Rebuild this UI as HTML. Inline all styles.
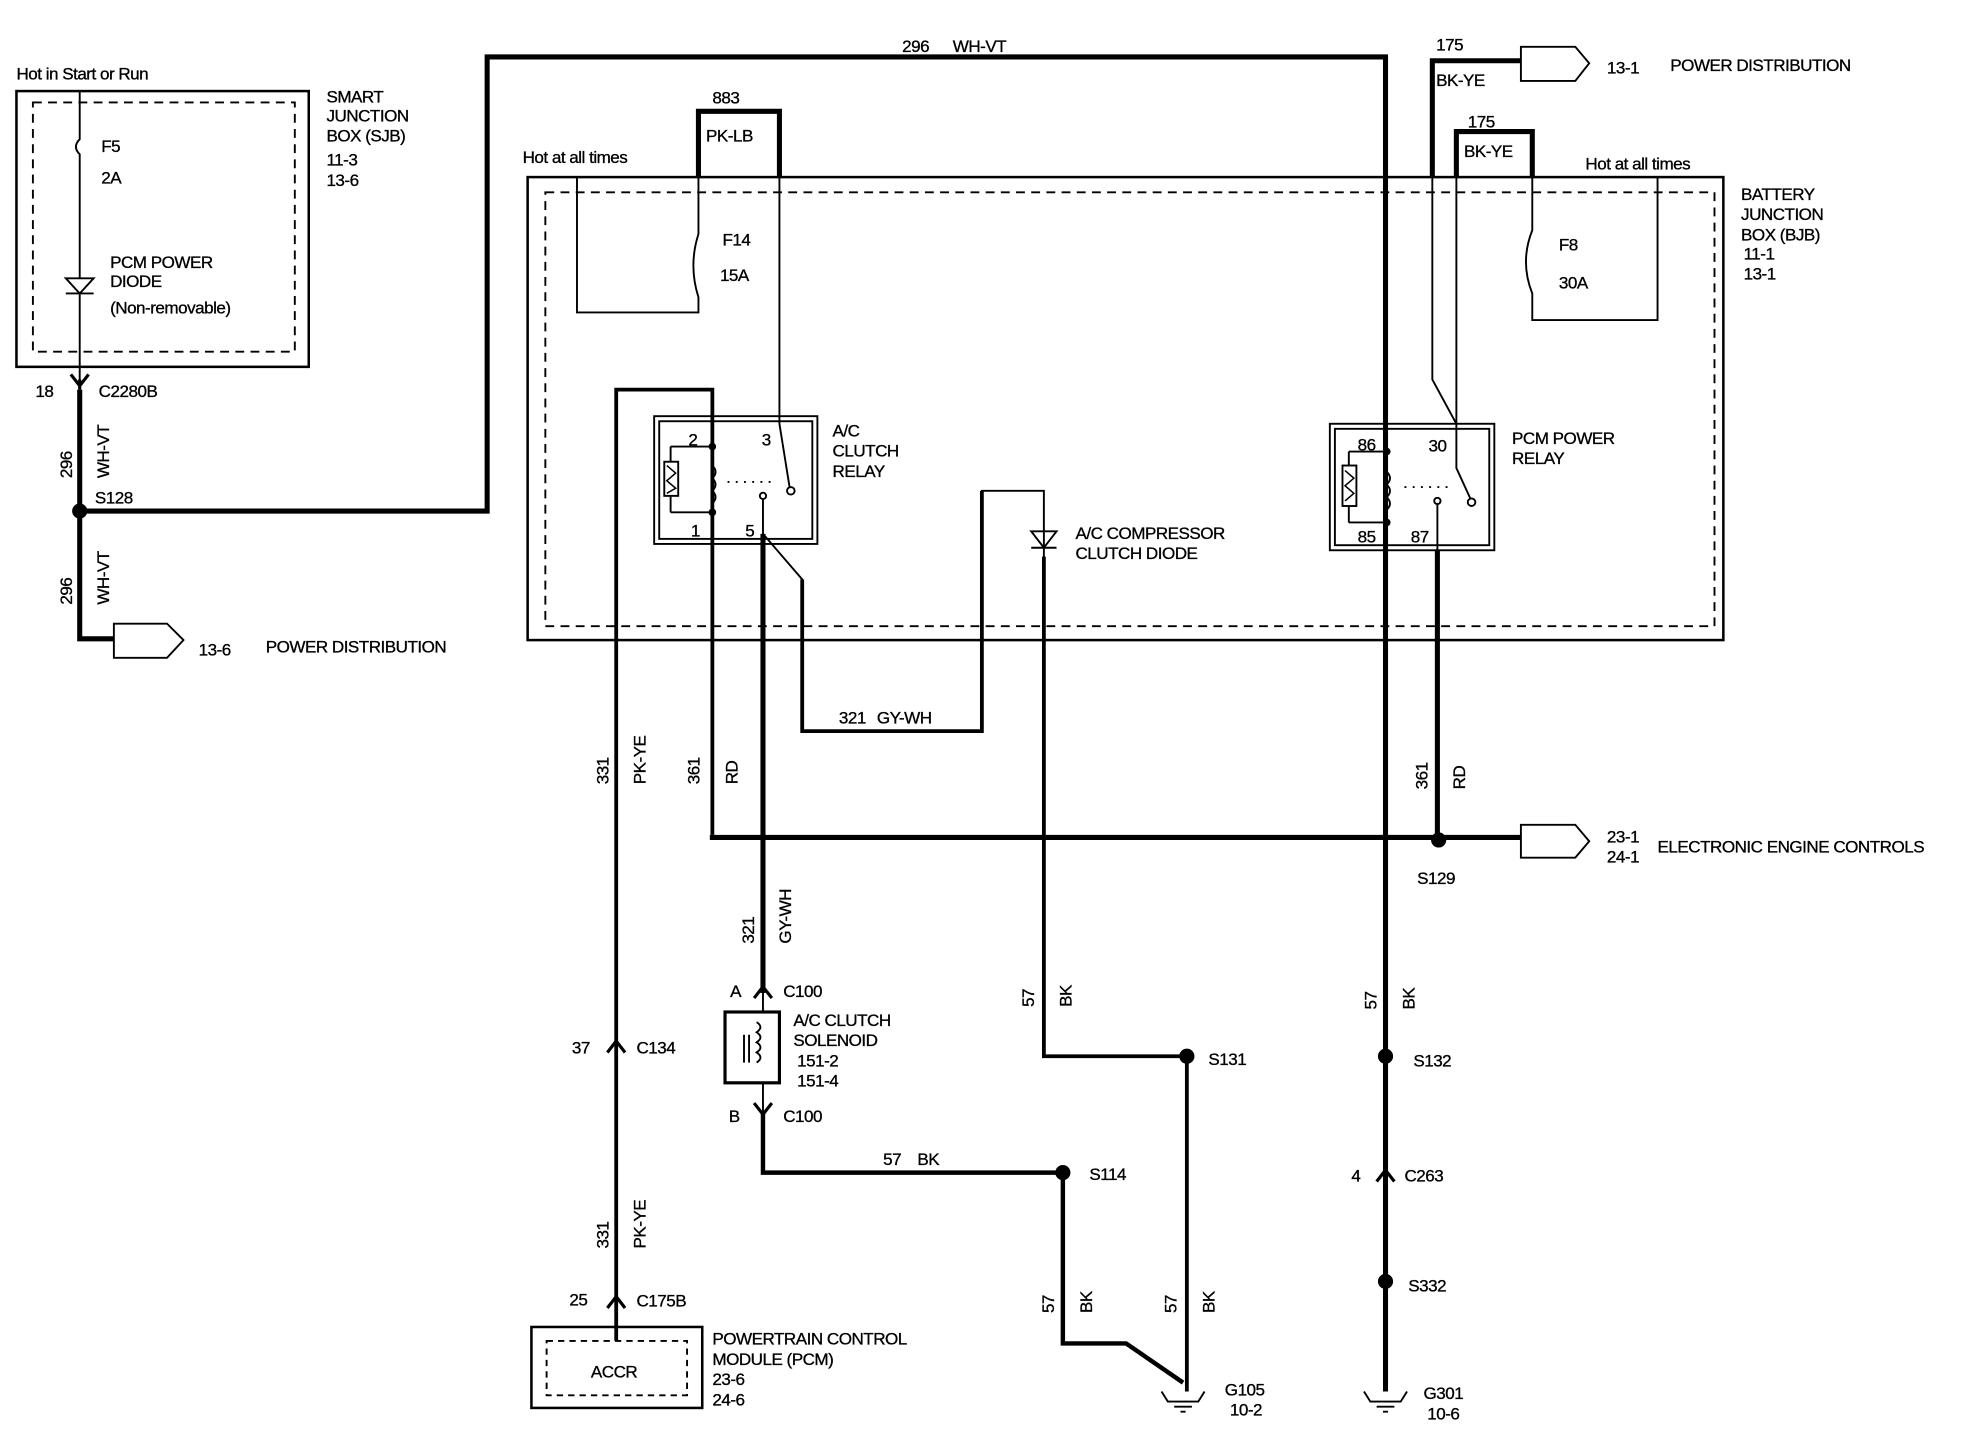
<!DOCTYPE html>
<html><head><meta charset="utf-8"><style>
html,body{margin:0;padding:0;background:#fff;}
svg{display:block;}
text{font-family:"Liberation Sans",sans-serif;font-size:13.5px;fill:#000;letter-spacing:-0.4px;stroke:#000;stroke-width:0.25px;}
</style></head><body>
<svg width="1984" height="1456" viewBox="0 0 1568 1151" preserveAspectRatio="none" xmlns="http://www.w3.org/2000/svg">
<g fill="none" stroke="#000" stroke-linejoin="miter">
<!-- SJB -->
<rect x="13" y="72" width="231" height="218" stroke-width="2"/>
<rect x="26" y="81" width="207" height="197" stroke-width="1.5" stroke-dasharray="7,5"/>
<path d="M63 72 V110 q-6 6 0 12 V220 M63 232 V300" stroke-width="1.5"/>
<path d="M52 220 H74 L63 232 Z M52 232 H74" stroke-width="1.5"/>
<path d="M56 296 L63 305 L70 296 M63 300 V308" stroke-width="2.5"/>
<!-- 296 wires -->
<path d="M63 308 V505 H90" stroke-width="4"/>
<path d="M63 404 H385 V45 H1095 V1100" stroke-width="4"/>
<path d="M90 493 H132 L145 506 L132 520 H90 Z" stroke-width="1.5"/>
<!-- BJB -->
<rect x="417" y="140" width="945" height="366" stroke-width="2"/>
<rect x="431" y="152" width="924" height="343" stroke-width="1.5" stroke-dasharray="7,5"/>
<!-- F14 -->
<path d="M456 140 V247 H552 V235 q-8 -25 0 -50 V140" stroke-width="1.5"/>
<path d="M552 140 V88 H616 V140" stroke-width="4"/>
<path d="M616 140 V335 L624 385" stroke-width="1.5"/>
<circle cx="625" cy="388" r="3" stroke-width="1.5"/>
<!-- AC clutch relay -->
<rect x="517" y="329" width="129" height="101" stroke-width="1.5"/>
<rect x="521" y="333" width="121" height="93" stroke-width="1.5"/>
<path d="M487 1060 V308 H563 V660" stroke-width="3"/>
<path d="M530 353 H563 M530 405 H563 M530 353 V365 M530 392 V405" stroke-width="1.5"/>
<rect x="525" y="365" width="11" height="27" stroke-width="1.5"/>
<path d="M527 368 L534 374 L527 380 L534 386 L527 390" stroke-width="1.2"/>
<path d="M563 368 q5 5 0 10 q5 5 0 10 q5 5 0 10" stroke-width="1.5"/>
<path d="M575 381 H612" stroke-width="1.5" stroke-dasharray="1.5,5"/>
<circle cx="603" cy="392" r="2.5" stroke-width="1.5"/>
<path d="M603 395 V422 L634 458 V578 H776 V388 H825 V835 H938 V1100" stroke-width="1.5"/>
<path d="M776 388 V578 H634 V458" stroke-width="3"/>
<path d="M825 440 V835 H938 V1100" stroke-width="3"/>
<path d="M603 422 V785" stroke-width="4"/>
<path d="M815 420 H835 L825 433 Z M815 433 H835" stroke-width="1.5"/>
<!-- PCM power relay -->
<rect x="1051" y="335" width="130" height="100" stroke-width="1.5"/>
<rect x="1055" y="339" width="122" height="92" stroke-width="1.5"/>
<path d="M1066 357 H1095 M1066 413 H1095 M1066 357 V368 M1066 400 V413" stroke-width="1.5"/>
<rect x="1061" y="368" width="11" height="32" stroke-width="1.5"/>
<path d="M1063 372 L1070 378 L1063 384 L1070 390 L1063 396" stroke-width="1.2"/>
<path d="M1096 373 q5 5 0 10 q5 5 0 10 q5 5 0 10" stroke-width="1.5"/>
<path d="M1110 385 H1148" stroke-width="1.5" stroke-dasharray="1.5,5"/>
<circle cx="1136" cy="396" r="2.5" stroke-width="1.5"/>
<path d="M1136 399 V435" stroke-width="1.5"/>
<path d="M1136 435 V664" stroke-width="4"/>
<circle cx="1163" cy="397" r="3" stroke-width="1.5"/>
<!-- 175 -->
<path d="M1202 48 H1132 V140" stroke-width="4"/>
<path d="M1202 37 H1245 L1256 50 L1245 64 H1202 Z" stroke-width="1.5"/>
<path d="M1132 140 V300 L1151 335" stroke-width="1.5"/>
<path d="M1151 140 V104 H1211 V140" stroke-width="4"/>
<path d="M1151 140 V370 L1162 394" stroke-width="1.5"/>
<path d="M1211 140 V182 q-10 25 0 50 V253 H1310 V140" stroke-width="1.5"/>
<!-- 361 horizontal -->
<path d="M563 660 V662 H1137 H1202" stroke-width="4"/>
<path d="M1202 652 H1245 L1256 665 L1245 678 H1202 Z" stroke-width="1.5"/>
<!-- solenoid -->
<path d="M596 789 L603 780 L610 789" stroke-width="2.5"/>
<path d="M603 780 V800 M603 856 V880" stroke-width="1.5"/>
<rect x="573" y="800" width="43" height="56" stroke-width="2.5"/>
<path d="M598 808 q6 4 0 8 q6 4 0 8 q6 4 0 8 q6 4 0 8 M588 818 V840 M592 818 V840" stroke-width="1.5"/>
<path d="M596 872 L603 881 L610 872" stroke-width="2.5"/>
<path d="M603 878 V927 H840 V1062 H890 L935 1093" stroke-width="3.5"/>
<!-- connectors on 331 and 1095 -->
<path d="M480 832 L487 823 L494 832" stroke-width="2.5"/>
<path d="M480 1034 L487 1025 L494 1034" stroke-width="2.5"/>
<path d="M1088 934 L1095 925 L1102 934" stroke-width="2.5"/>
<!-- PCM -->
<rect x="420" y="1049" width="135" height="64" stroke-width="2"/>
<rect x="432" y="1060" width="111" height="43" stroke-width="1.5" stroke-dasharray="5,4"/>
<!-- grounds -->
<path d="M918 1100 L923 1108 H947 L952 1100 M928 1112 H942 M933 1116 H937" stroke-width="1.5"/>
<path d="M1078 1100 L1083 1108 H1107 L1112 1100 M1088 1112 H1102 M1093 1116 H1097" stroke-width="1.5"/>
</g>
<g fill="#000">
<circle cx="63" cy="404" r="6"/>
<circle cx="563" cy="353" r="3"/><circle cx="563" cy="405" r="3"/>
<circle cx="1096" cy="357" r="3"/><circle cx="1096" cy="413" r="3"/>
<circle cx="1137" cy="664" r="6"/>
<circle cx="938" cy="835" r="6"/>
<circle cx="840" cy="927" r="6"/>
<circle cx="1095" cy="835" r="6"/>
<circle cx="1095" cy="1013" r="6"/>
</g>
<text x="13" y="63">Hot in Start or Run</text>
<text x="80" y="120">F5</text><text x="80" y="145">2A</text>
<text x="87" y="212">PCM POWER</text><text x="87" y="227">DIODE</text><text x="87" y="248">(Non-removable)</text>
<text x="258" y="81">SMART</text><text x="258" y="96">JUNCTION</text><text x="258" y="112">BOX (SJB)</text><text x="258" y="131">11-3</text><text x="258" y="147">13-6</text>
<text x="28" y="314">18</text><text x="78" y="314">C2280B</text>
<text transform="translate(57,378) rotate(-90)">296</text><text transform="translate(86,378) rotate(-90)">WH-VT</text>
<text x="75" y="398">S128</text>
<text transform="translate(57,478) rotate(-90)">296</text><text transform="translate(86,478) rotate(-90)">WH-VT</text>
<text x="157" y="518">13-6</text><text x="210" y="516">POWER DISTRIBUTION</text>
<text x="713" y="41">296</text><text x="753" y="41">WH-VT</text>
<text x="563" y="82">883</text><text x="558" y="112">PK-LB</text>
<text x="413" y="129">Hot at all times</text>
<text x="571" y="194">F14</text><text x="569" y="222">15A</text>
<text x="544" y="352">2</text><text x="602" y="352">3</text><text x="546" y="424">1</text><text x="589" y="424">5</text>
<text x="658" y="345">A/C</text><text x="658" y="361">CLUTCH</text><text x="658" y="377">RELAY</text>
<text x="850" y="426">A/C COMPRESSOR</text><text x="850" y="442">CLUTCH DIODE</text>
<text x="1135" y="40">175</text><text x="1135" y="68">BK-YE</text>
<text x="1270" y="58">13-1</text><text x="1320" y="56">POWER DISTRIBUTION</text>
<text x="1160" y="101">175</text><text x="1157" y="124">BK-YE</text>
<text x="1253" y="134">Hot at all times</text>
<text x="1232" y="198">F8</text><text x="1232" y="228">30A</text>
<text x="1376" y="158">BATTERY</text><text x="1376" y="174">JUNCTION</text><text x="1376" y="190">BOX (BJB)</text><text x="1378" y="205">11-1</text><text x="1378" y="221">13-1</text>
<text x="1073" y="356">86</text><text x="1129" y="357">30</text><text x="1073" y="429">85</text><text x="1115" y="429">87</text>
<text x="1195" y="351">PCM POWER</text><text x="1195" y="367">RELAY</text>
<text x="663" y="572">321</text><text x="693" y="572">GY-WH</text>
<text transform="translate(481,620) rotate(-90)">331</text><text transform="translate(510,620) rotate(-90)">PK-YE</text>
<text transform="translate(553,620) rotate(-90)">361</text><text transform="translate(583,620) rotate(-90)">RD</text>
<text transform="translate(1128,624) rotate(-90)">361</text><text transform="translate(1158,624) rotate(-90)">RD</text>
<text x="1270" y="666">23-1</text><text x="1270" y="682">24-1</text><text x="1310" y="674">ELECTRONIC ENGINE CONTROLS</text>
<text x="1120" y="699">S129</text>
<text transform="translate(596,746) rotate(-90)">321</text><text transform="translate(625,746) rotate(-90)">GY-WH</text>
<text x="577" y="788">A</text><text x="619" y="788">C100</text>
<text x="627" y="811">A/C  CLUTCH</text><text x="627" y="827">SOLENOID</text><text x="630" y="843">151-2</text><text x="630" y="859">151-4</text>
<text x="576" y="887">B</text><text x="619" y="887">C100</text>
<text x="698" y="921">57</text><text x="725" y="921">BK</text>
<text x="861" y="933">S114</text>
<text transform="translate(817,796) rotate(-90)">57</text><text transform="translate(847,796) rotate(-90)">BK</text>
<text x="955" y="842">S131</text>
<text transform="translate(1088,798) rotate(-90)">57</text><text transform="translate(1118,798) rotate(-90)">BK</text>
<text x="1117" y="843">S132</text>
<text x="1068" y="934">4</text><text x="1110" y="934">C263</text>
<text x="1113" y="1021">S332</text>
<text x="452" y="833">37</text><text x="503" y="833">C134</text>
<text transform="translate(481,987) rotate(-90)">331</text><text transform="translate(510,987) rotate(-90)">PK-YE</text>
<text x="450" y="1032">25</text><text x="503" y="1033">C175B</text>
<text x="467" y="1089">ACCR</text>
<text x="563" y="1063">POWERTRAIN  CONTROL</text><text x="563" y="1079">MODULE (PCM)</text><text x="563" y="1095">23-6</text><text x="563" y="1111">24-6</text>
<text transform="translate(833,1038) rotate(-90)">57</text><text transform="translate(863,1038) rotate(-90)">BK</text>
<text transform="translate(930,1038) rotate(-90)">57</text><text transform="translate(960,1038) rotate(-90)">BK</text>
<text x="968" y="1103">G105</text><text x="972" y="1119">10-2</text>
<text x="1125" y="1106">G301</text><text x="1128" y="1122">10-6</text>
</svg>
</body></html>
